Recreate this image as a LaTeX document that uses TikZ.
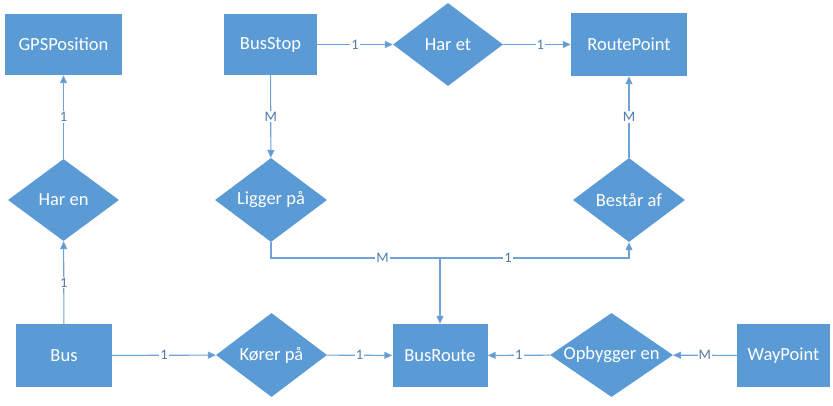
\documentclass[tikz,border=0pt]{standalone}
\usepackage{fontspec}
\setmainfont{Carlito}
\usetikzlibrary{shapes.geometric,arrows.meta}
\definecolor{boxblue}{HTML}{5B9BD5}
\definecolor{lineblue}{HTML}{6FA3D6}
\definecolor{lbltext}{HTML}{4F7CAC}
\tikzset{
  ent/.style={rectangle,fill=boxblue,draw=none,text=white,font=\fontsize{18.5}{20}\selectfont,inner sep=0pt},
  rel/.style={diamond,fill=boxblue,draw=none,text=white,font=\fontsize{18.5}{20}\selectfont,inner sep=0pt},
  conn/.style={draw=lineblue,line width=1.1pt},
  arr/.style={conn,-{Triangle[length=8pt,width=7pt,fill=boxblue]}},
  lbl/.style={fill=white,text=lbltext,font=\fontsize{14.5}{16}\selectfont,inner sep=1pt}
}
\newcommand\ctr[1]{\makebox[0pt]{#1}}
\begin{document}
\begin{tikzpicture}[x=1pt,y=-1pt]
\useasboundingbox (0,0) rectangle (833,406);
% entities
\node[ent,minimum width=117pt,minimum height=61pt] (gps) at (63.5,44.5) {GPSPosition};
\node[ent,minimum width=93pt,minimum height=61pt] (busstop) at (270.5,44.5) {BusStop};
\node[ent,minimum width=116pt,minimum height=63pt] (routepoint) at (629,44.5) {RoutePoint};
\node[ent,minimum width=96pt,minimum height=63pt] (bus) at (64,355.5) {Bus};
\node[ent,minimum width=95pt,minimum height=63pt] (busroute) at (440,355.5) {BusRoute};
\node[ent,minimum width=93pt,minimum height=63pt] (waypoint) at (783.5,355.5) {WayPoint};
% relations
\node[rel,minimum width=110pt,minimum height=83pt] (haret) at (448,44.5) {\ctr{Har et}};
\node[rel,minimum width=111pt,minimum height=82pt] (haren) at (63.5,200) {\ctr{Har en}};
\node[rel,minimum width=112pt,minimum height=84pt] (ligger) at (271,200) {\ctr{Ligger på}};
\node[rel,minimum width=112pt,minimum height=84pt] (bestar) at (629,200) {\ctr{Består af}};
\node[rel,minimum width=111pt,minimum height=84pt] (korer) at (271.5,355) {\ctr{Kører på}};
\node[rel,minimum width=123pt,minimum height=84pt] (opbygger) at (611.5,355) {\ctr{Opbygger en}};
\coordinate (jn) at (440,258);
% connectors
\draw[arr] (busstop) -- node[lbl]{1} (haret);
\draw[arr] (haret) -- node[lbl,pos=0.55]{1} (routepoint);
\draw[arr] (haren) -- node[lbl]{1} (gps);
\draw[arr] (bus) -- node[lbl]{1} (haren);
\draw[arr] (busstop) -- node[lbl]{M} (ligger);
\draw[arr] (bestar) -- node[lbl]{M} (routepoint);
\draw[conn] (ligger.south) |- node[lbl,pos=0.83]{M} (jn);
\draw[arr] (jn) -| node[lbl,pos=0.18]{1} (bestar.south);
\draw[arr] (jn) -- (busroute.north);
\draw[arr] (bus) -- node[lbl]{1} (korer);
\draw[arr] (korer) -- node[lbl]{1} (busroute);
\draw[arr] (opbygger) -- node[lbl]{1} (busroute);
\draw[arr] (waypoint) -- node[lbl]{M} (opbygger);
\end{tikzpicture}
\end{document}
